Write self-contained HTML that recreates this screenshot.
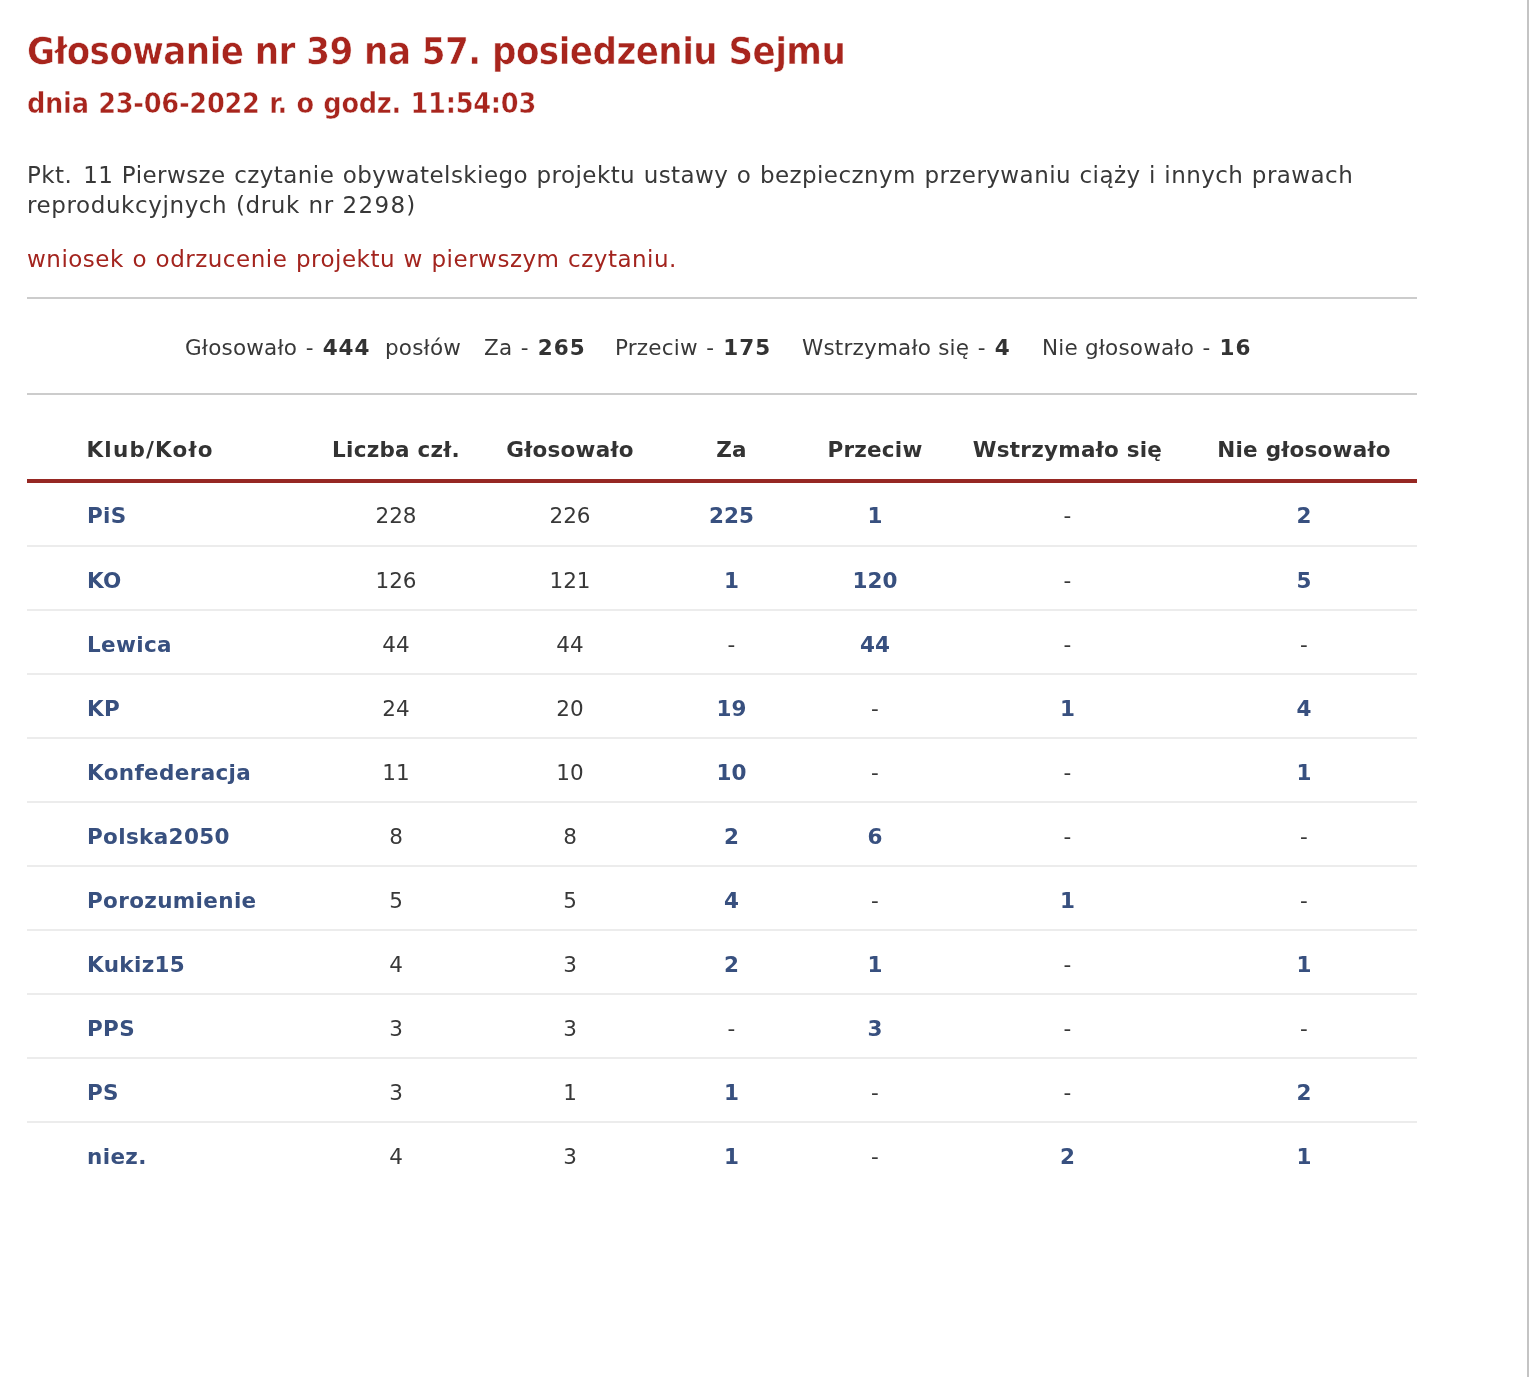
<!DOCTYPE html>
<html lang="pl"><head><meta charset="utf-8"><title>Głosowanie nr 39</title>
<style>
html,body{margin:0;padding:0;background:#fff;}
body{width:1529px;height:1377px;position:relative;overflow:hidden;font-family:"DejaVu Sans","Liberation Sans",sans-serif;color:#383838;}
.edge{position:absolute;left:1527px;top:0;width:2px;height:1377px;background:#c4c4c4;}
h1,h2{position:absolute;left:27px;margin:0;font-family:"DejaVu Sans Condensed","DejaVu Sans","Liberation Sans",sans-serif;font-weight:bold;color:#a8251d;white-space:nowrap;}
h1{top:26px;font-size:38px;line-height:50px;letter-spacing:-0.55px;-webkit-text-stroke:0.55px #fff;}
h2{top:83.5px;font-size:28.5px;line-height:40px;word-spacing:0.8px;letter-spacing:-0.25px;-webkit-text-stroke:0.45px #fff;}
p{position:absolute;left:27px;margin:0;font-size:23px;line-height:30px;white-space:nowrap;letter-spacing:0.43px;word-spacing:0.8px;}
p.d1{top:160px;}
p.d2{top:190px;letter-spacing:0.6px;}
p.sub{top:244px;color:#a3241e;letter-spacing:0.5px;}
.hr{position:absolute;left:27px;width:1390px;height:2px;background:#cccccc;}
.stats{position:absolute;left:0;top:332px;width:1417px;height:32px;font-size:21.5px;line-height:32px;white-space:nowrap;}
.stats span{position:absolute;top:0;letter-spacing:0.2px;}
.stats b{color:#333;letter-spacing:1px;margin-left:1px;}
.stats i{font-style:normal;margin:0 1px 0 1.5px;}
table{position:absolute;left:27px;top:415px;width:1390px;border-collapse:collapse;font-size:21.5px;table-layout:fixed;}
th{font-weight:bold;color:#333;height:59px;padding:5px 0 0 0;letter-spacing:0.25px;text-align:center;white-space:nowrap;}
td{height:58px;padding:4px 0 0 0;border-bottom:2px solid #ececec;text-align:center;white-space:nowrap;}
tr.hd th{border-bottom:4px solid #962823;}
tr.r1 td{height:60px;padding-top:2px;}
tr:last-child td{border-bottom:none;}
th.l,td.l{text-align:left;padding-left:60px;}
th.l{letter-spacing:1.2px;padding-left:59.5px;}
td.l,td b{color:#38507f;font-weight:bold;}
td.l{letter-spacing:0.35px;}
</style></head><body>
<div class="edge"></div>
<h1>Głosowanie nr 39 na 57. posiedzeniu Sejmu</h1>
<h2>dnia 23-06-2022 r. o godz. 11:54:03</h2>
<p class="d1"><span style="word-spacing:3.2px">Pkt. 11</span> Pierwsze czytanie obywatelskiego projektu ustawy o bezpiecznym przerywaniu ciąży i innych prawach</p>
<p class="d2">reprodukcyjnych (druk nr <span style="letter-spacing:1.3px">2298)</span></p>
<p class="sub">wniosek o odrzucenie projektu w pierwszym czytaniu.</p>
<div class="hr" style="top:297px"></div>
<div class="stats">
<span style="left:185px">Głosowało <i>-</i> <b>444</b></span>
<span style="left:385px">posłów</span>
<span style="left:484px">Za <i>-</i> <b>265</b></span>
<span style="left:615px">Przeciw <i>-</i> <b>175</b></span>
<span style="left:802px">Wstrzymało się <i>-</i> <b>4</b></span>
<span style="left:1042px">Nie głosowało <i>-</i> <b>16</b></span>
</div>
<div class="hr" style="top:393px"></div>
<table>
<colgroup><col style="width:282px"><col style="width:174px"><col style="width:174px"><col style="width:149px"><col style="width:138px"><col style="width:247px"><col style="width:226px"></colgroup>
<tr class="hd"><th class="l">Klub/Koło</th><th>Liczba czł.</th><th>Głosowało</th><th>Za</th><th>Przeciw</th><th>Wstrzymało się</th><th>Nie głosowało</th></tr>
<tr class="r1"><td class="l">PiS</td><td>228</td><td>226</td><td><b>225</b></td><td><b>1</b></td><td>-</td><td><b>2</b></td></tr>
<tr><td class="l">KO</td><td>126</td><td>121</td><td><b>1</b></td><td><b>120</b></td><td>-</td><td><b>5</b></td></tr>
<tr><td class="l">Lewica</td><td>44</td><td>44</td><td>-</td><td><b>44</b></td><td>-</td><td>-</td></tr>
<tr><td class="l">KP</td><td>24</td><td>20</td><td><b>19</b></td><td>-</td><td><b>1</b></td><td><b>4</b></td></tr>
<tr><td class="l">Konfederacja</td><td>11</td><td>10</td><td><b>10</b></td><td>-</td><td>-</td><td><b>1</b></td></tr>
<tr><td class="l">Polska2050</td><td>8</td><td>8</td><td><b>2</b></td><td><b>6</b></td><td>-</td><td>-</td></tr>
<tr><td class="l">Porozumienie</td><td>5</td><td>5</td><td><b>4</b></td><td>-</td><td><b>1</b></td><td>-</td></tr>
<tr><td class="l">Kukiz15</td><td>4</td><td>3</td><td><b>2</b></td><td><b>1</b></td><td>-</td><td><b>1</b></td></tr>
<tr><td class="l">PPS</td><td>3</td><td>3</td><td>-</td><td><b>3</b></td><td>-</td><td>-</td></tr>
<tr><td class="l">PS</td><td>3</td><td>1</td><td><b>1</b></td><td>-</td><td>-</td><td><b>2</b></td></tr>
<tr><td class="l">niez.</td><td>4</td><td>3</td><td><b>1</b></td><td>-</td><td><b>2</b></td><td><b>1</b></td></tr>
</table>
</body></html>
